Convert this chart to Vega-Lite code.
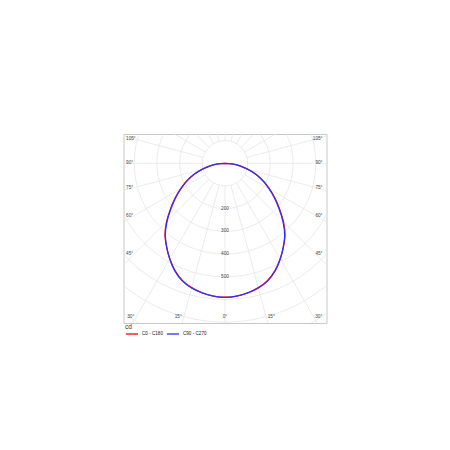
{
  "$schema": "https://vega.github.io/schema/vega-lite/v6.json",
  "width": 203,
  "height": 189,
  "autosize": {"type": "none"},
  "padding": {"left": 123.5, "top": 134, "right": 123.5, "bottom": 127},
  "background": "white",
  "config": {"view": {"stroke": "#c8c8c8", "strokeWidth": 1}, "font": "Liberation Sans"},
  "datasets": {
    "curve": [
      {"plane": "C0 - C180", "g": -90, "cd": 0}, {"plane": "C0 - C180", "g": -85, "cd": 30}, {"plane": "C0 - C180", "g": -80, "cd": 66},
      {"plane": "C0 - C180", "g": -75, "cd": 106}, {"plane": "C0 - C180", "g": -70, "cd": 147}, {"plane": "C0 - C180", "g": -65, "cd": 187},
      {"plane": "C0 - C180", "g": -60, "cd": 227}, {"plane": "C0 - C180", "g": -55, "cd": 269}, {"plane": "C0 - C180", "g": -50, "cd": 314},
      {"plane": "C0 - C180", "g": -45, "cd": 364}, {"plane": "C0 - C180", "g": -40, "cd": 411}, {"plane": "C0 - C180", "g": -35, "cd": 449},
      {"plane": "C0 - C180", "g": -30, "cd": 486}, {"plane": "C0 - C180", "g": -25, "cd": 521}, {"plane": "C0 - C180", "g": -20, "cd": 549},
      {"plane": "C0 - C180", "g": -15, "cd": 567}, {"plane": "C0 - C180", "g": -10, "cd": 579}, {"plane": "C0 - C180", "g": -5, "cd": 587},
      {"plane": "C0 - C180", "g": 0, "cd": 590},
      {"plane": "C0 - C180", "g": 5, "cd": 587}, {"plane": "C0 - C180", "g": 10, "cd": 579}, {"plane": "C0 - C180", "g": 15, "cd": 567},
      {"plane": "C0 - C180", "g": 20, "cd": 549}, {"plane": "C0 - C180", "g": 25, "cd": 521}, {"plane": "C0 - C180", "g": 30, "cd": 486},
      {"plane": "C0 - C180", "g": 35, "cd": 449}, {"plane": "C0 - C180", "g": 40, "cd": 411}, {"plane": "C0 - C180", "g": 45, "cd": 364},
      {"plane": "C0 - C180", "g": 50, "cd": 314}, {"plane": "C0 - C180", "g": 55, "cd": 269}, {"plane": "C0 - C180", "g": 60, "cd": 227},
      {"plane": "C0 - C180", "g": 65, "cd": 187}, {"plane": "C0 - C180", "g": 70, "cd": 147}, {"plane": "C0 - C180", "g": 75, "cd": 106},
      {"plane": "C0 - C180", "g": 80, "cd": 66}, {"plane": "C0 - C180", "g": 85, "cd": 30}, {"plane": "C0 - C180", "g": 90, "cd": 0},
      {"plane": "C90 - C270", "g": -90, "cd": 0}, {"plane": "C90 - C270", "g": -85, "cd": 31}, {"plane": "C90 - C270", "g": -80, "cd": 67},
      {"plane": "C90 - C270", "g": -75, "cd": 107}, {"plane": "C90 - C270", "g": -70, "cd": 148}, {"plane": "C90 - C270", "g": -65, "cd": 186},
      {"plane": "C90 - C270", "g": -60, "cd": 224}, {"plane": "C90 - C270", "g": -55, "cd": 266}, {"plane": "C90 - C270", "g": -50, "cd": 311},
      {"plane": "C90 - C270", "g": -45, "cd": 361}, {"plane": "C90 - C270", "g": -40, "cd": 409}, {"plane": "C90 - C270", "g": -35, "cd": 448},
      {"plane": "C90 - C270", "g": -30, "cd": 487}, {"plane": "C90 - C270", "g": -25, "cd": 523}, {"plane": "C90 - C270", "g": -20, "cd": 551},
      {"plane": "C90 - C270", "g": -15, "cd": 569}, {"plane": "C90 - C270", "g": -10, "cd": 580}, {"plane": "C90 - C270", "g": -5, "cd": 587},
      {"plane": "C90 - C270", "g": 0, "cd": 591},
      {"plane": "C90 - C270", "g": 5, "cd": 587}, {"plane": "C90 - C270", "g": 10, "cd": 580}, {"plane": "C90 - C270", "g": 15, "cd": 569},
      {"plane": "C90 - C270", "g": 20, "cd": 551}, {"plane": "C90 - C270", "g": 25, "cd": 523}, {"plane": "C90 - C270", "g": 30, "cd": 487},
      {"plane": "C90 - C270", "g": 35, "cd": 448}, {"plane": "C90 - C270", "g": 40, "cd": 409}, {"plane": "C90 - C270", "g": 45, "cd": 361},
      {"plane": "C90 - C270", "g": 50, "cd": 311}, {"plane": "C90 - C270", "g": 55, "cd": 266}, {"plane": "C90 - C270", "g": 60, "cd": 224},
      {"plane": "C90 - C270", "g": 65, "cd": 186}, {"plane": "C90 - C270", "g": 70, "cd": 148}, {"plane": "C90 - C270", "g": 75, "cd": 107},
      {"plane": "C90 - C270", "g": 80, "cd": 67}, {"plane": "C90 - C270", "g": 85, "cd": 31}, {"plane": "C90 - C270", "g": 90, "cd": 0}
    ],
    "rings": [{"r": 100}, {"r": 200}, {"r": 300}, {"r": 400}, {"r": 500}, {"r": 600}, {"r": 700}, {"r": 800}, {"r": 900}],
    "spokes": [{"a": 0}, {"a": 15}, {"a": 30}, {"a": 45}, {"a": 60}, {"a": 75}, {"a": 90}, {"a": 105}, {"a": 120}, {"a": 135}, {"a": 150}, {"a": 165},
      {"a": 180}, {"a": 195}, {"a": 210}, {"a": 225}, {"a": 240}, {"a": 255}, {"a": 270}, {"a": 285}, {"a": 300}, {"a": 315}, {"a": 330}, {"a": 345}],
    "angles": [
      {"t": "105°", "a": 105, "p": "L"}, {"t": "90°", "a": 90, "p": "L"}, {"t": "75°", "a": 75, "p": "L"}, {"t": "60°", "a": 60, "p": "L"}, {"t": "45°", "a": 45, "p": "L"},
      {"t": "105°", "a": 105, "p": "R"}, {"t": "90°", "a": 90, "p": "R"}, {"t": "75°", "a": 75, "p": "R"}, {"t": "60°", "a": 60, "p": "R"}, {"t": "45°", "a": 45, "p": "R"},
      {"t": "30°", "a": 30, "p": "BL"}, {"t": "15°", "a": 15, "p": "BL"}, {"t": "0°", "a": 0, "p": "BC"}, {"t": "15°", "a": 15, "p": "BR"}, {"t": "30°", "a": 30, "p": "BR"}
    ]
  },
  "layer": [
    {
      "data": {"name": "rings"},
      "mark": {"type": "point", "shape": "circle", "filled": false, "color": "#e6e6e6", "stroke": "#e6e6e6", "strokeWidth": 0.8, "opacity": 1, "clip": true},
      "encoding": {
        "x": {"datum": 0, "type": "quantitative", "scale": {"domain": [-447.1, 447.1], "nice": false, "zero": false}, "axis": null},
        "y": {"datum": 0, "type": "quantitative", "scale": {"domain": [-703.5, 129.1], "nice": false, "zero": false}, "axis": null},
        "size": {"field": "r", "type": "quantitative", "scale": {"type": "pow", "exponent": 2, "domain": [0, 900], "range": [0, 166954]}, "legend": null}
      }
    },
    {
      "data": {"name": "spokes"},
      "transform": [
        {"calculate": "100*sin(datum.a*PI/180)", "as": "x1"},
        {"calculate": "-100*cos(datum.a*PI/180)", "as": "y1"},
        {"calculate": "1200*sin(datum.a*PI/180)", "as": "x2"},
        {"calculate": "-1200*cos(datum.a*PI/180)", "as": "y2"}
      ],
      "mark": {"type": "rule", "stroke": "#e6e6e6", "strokeWidth": 0.8, "clip": true},
      "encoding": {
        "x": {"field": "x1", "type": "quantitative"},
        "y": {"field": "y1", "type": "quantitative"},
        "x2": {"field": "x2"},
        "y2": {"field": "y2"}
      }
    },
    {
      "data": {"name": "rings"},
      "transform": [{"filter": "datum.r >= 200 && datum.r <= 500"}, {"calculate": "-datum.r", "as": "ry"}],
      "mark": {"type": "text", "fontSize": 4.7, "fill": "#444444", "align": "center", "baseline": "middle"},
      "encoding": {
        "x": {"datum": 0, "type": "quantitative"},
        "y": {"field": "ry", "type": "quantitative"},
        "text": {"field": "r", "type": "nominal"}
      }
    },
    {
      "data": {"name": "angles"},
      "transform": [
        {"filter": "datum.p == 'L' || datum.p == 'BR'"},
        {"calculate": "datum.p == 'L' ? -436 : 676*tan(datum.a*PI/180) + 7", "as": "lx"},
        {"calculate": "datum.p == 'L' ? -399*cos(datum.a*PI/180)/sin(datum.a*PI/180) : -676", "as": "ly"}
      ],
      "mark": {"type": "text", "fontSize": 4.7, "fill": "#444444", "align": "left", "baseline": "middle"},
      "encoding": {
        "x": {"field": "lx", "type": "quantitative"},
        "y": {"field": "ly", "type": "quantitative"},
        "text": {"field": "t", "type": "nominal"}
      }
    },
    {
      "data": {"name": "angles"},
      "transform": [
        {"filter": "datum.p == 'R' || datum.p == 'BL'"},
        {"calculate": "datum.p == 'R' ? 429.5 : -676*tan(datum.a*PI/180) - 9", "as": "lx"},
        {"calculate": "datum.p == 'R' ? -399*cos(datum.a*PI/180)/sin(datum.a*PI/180) : -676", "as": "ly"}
      ],
      "mark": {"type": "text", "fontSize": 4.7, "fill": "#444444", "align": "right", "baseline": "middle"},
      "encoding": {
        "x": {"field": "lx", "type": "quantitative"},
        "y": {"field": "ly", "type": "quantitative"},
        "text": {"field": "t", "type": "nominal"}
      }
    },
    {
      "data": {"name": "angles"},
      "transform": [
        {"filter": "datum.p == 'BC'"},
        {"calculate": "-676", "as": "ly"}
      ],
      "mark": {"type": "text", "fontSize": 4.7, "fill": "#444444", "align": "center", "baseline": "middle"},
      "encoding": {
        "x": {"datum": 0, "type": "quantitative"},
        "y": {"field": "ly", "type": "quantitative"},
        "text": {"field": "t", "type": "nominal"}
      }
    },
    {
      "data": {"name": "curve"},
      "transform": [
        {"calculate": "datum.cd*sin(datum.g*PI/180)", "as": "px"},
        {"calculate": "-datum.cd*cos(datum.g*PI/180)", "as": "py"}
      ],
      "mark": {"type": "line", "strokeWidth": 1.3, "interpolate": "catmull-rom", "clip": true},
      "encoding": {
        "x": {"field": "px", "type": "quantitative"},
        "y": {"field": "py", "type": "quantitative"},
        "order": {"field": "g", "type": "quantitative"},
        "color": {
          "field": "plane", "type": "nominal",
          "scale": {"domain": ["C0 - C180", "C90 - C270"], "range": ["#ff0000", "#3030ff"]},
          "legend": {
            "orient": "none", "legendX": 1.5, "legendY": 190, "direction": "horizontal",
            "title": "cd", "titleFontSize": 6.5, "titleFontWeight": "normal", "titleColor": "#333333", "titlePadding": -3.5,
            "labelFontSize": 4.6, "labelColor": "#222222", "labelOffset": 3,
            "symbolType": "stroke", "symbolSize": 144, "symbolStrokeWidth": 1.3, "columnPadding": 1, "gridAlign": "none", "padding": 0
          }
        }
      }
    }
  ]
}
